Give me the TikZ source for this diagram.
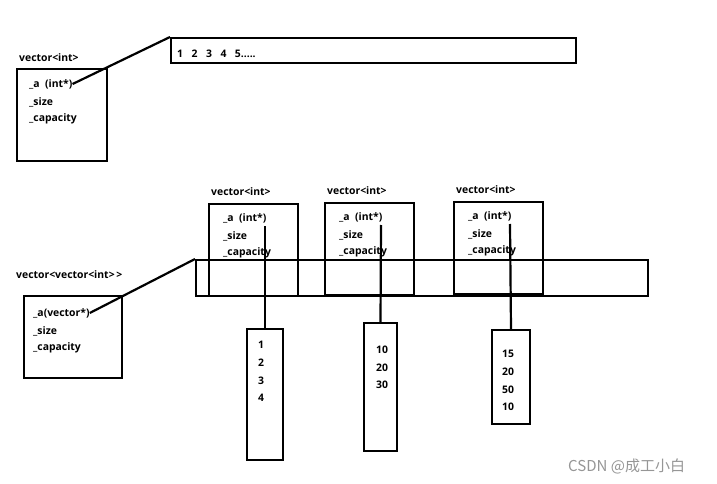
\documentclass[tikz,border=0pt]{standalone}
\usepackage{fontspec}
\setmainfont{Open Sans}
\newfontfamily\cjk{Noto Sans CJK SC}
\usepackage{tikz}
\usetikzlibrary{positioning}
\definecolor{InkCol}{RGB}{0,0,0}
\definecolor{MarkCol}{RGB}{150,150,150}
\tikzset{
  vbox/.style={draw=InkCol, line width=2pt, inner sep=0pt, anchor=north west},
  vlab/.style={font=\fontsize{10.4}{12}\selectfont\bfseries, inner sep=0pt, anchor=west},
  vnum/.style={font=\fontsize{10.4}{12}\selectfont\bfseries, inner sep=0pt},
  vlink/.style={line width=2.2pt, draw=InkCol}
}
% three fields of one vector
\newcommand{\VFields}[4]{%
  \node[vlab] (#1-a) at (#2,#3) {\_a\ \ (#4)};
  \node[vlab] (#1-s) at (#2,#3+18) {\_size};
  \node[vlab] (#1-c) at (#2,#3+35) {\_capacity};
}

\begin{document}
\begin{tikzpicture}[x=1pt,y=-1pt]
  \useasboundingbox[fill=white] (0,0) rectangle (717,484);

  % vector<int>
  \node[vlab] (vilab) at (19,58) {vector<int>};
  \node[vbox, minimum width=90pt, minimum height=92pt] (vi) at (16,68) {};
  \VFields{vi}{29}{84}{int*}
  \node[vbox, minimum width=405pt, minimum height=25pt] (arr) at (170,37) {};
  \node[vlab] (arrtxt) at (177,54) {1\hspace{8.5pt}2\hspace{8.5pt}3\hspace{8.5pt}4\hspace{8.5pt}5.....};
  \draw[vlink] (vi-a.east) -- (arr.north west);

  % vector<vector<int>>
  \node[vlab] (vvlab) at (16,275) {vector<vector<int>\,>};
  \node[vbox, minimum width=98pt, minimum height=82pt] (vv) at (23,295) {};
  \node[vlab] (vv-a) at (33,313) {\_a(vector*)};
  \node[vlab] (vv-s) at (33,331) {\_size};
  \node[vlab] (vv-c) at (33,348) {\_capacity};
  \node[vbox, minimum width=452pt, minimum height=36pt] (row) at (195,259) {};
  \draw[vlink] (vv-a.east) -- (row.north west);

  % inner vectors
  \foreach \n/\bx/\by in {1/208/203, 2/324/202, 3/453/201}{
    \node[vlab] (s\n-lab) at (\bx+3,\by-11) {vector<int>};
    \node[vbox, minimum width=89pt, minimum height=92pt] (s\n) at (\bx,\by) {};
    \VFields{s\n}{\bx+15}{\by+15}{int*}
    \coordinate (s\n-p) at (\bx+57,\by+23);
  }

  % int arrays
  \node[vbox, minimum width=36pt, minimum height=131pt] (col1) at (246,328) {};
  \foreach \v [count=\k] in {1,2,3,4}
    \node[vnum] (col1-\k) at (261,{345+17.7*(\k-1)}) {\v};
  \node[vbox, minimum width=33pt, minimum height=128pt] (col2) at (363,322) {};
  \foreach \v [count=\k] in {10,20,30}
    \node[vnum] (col2-\k) at (382,{350+17.5*(\k-1)}) {\v};
  \node[vbox, minimum width=38pt, minimum height=94pt] (col3) at (491,329) {};
  \foreach \v [count=\k] in {15,20,50,10}
    \node[vnum] (col3-\k) at (508,{354+17.7*(\k-1)}) {\v};

  \draw[vlink] (s1-p) -- (col1.north);
  \draw[vlink] (s2-p) -- (col2.north);
  \draw[vlink] (s3-p) -- (col3.north);

  \node[font=\cjk\fontsize{15}{17}\selectfont, text=MarkCol, inner sep=0pt, anchor=west] (mark) at (568,466) {CSDN @成工小白};
\end{tikzpicture}
\end{document}
